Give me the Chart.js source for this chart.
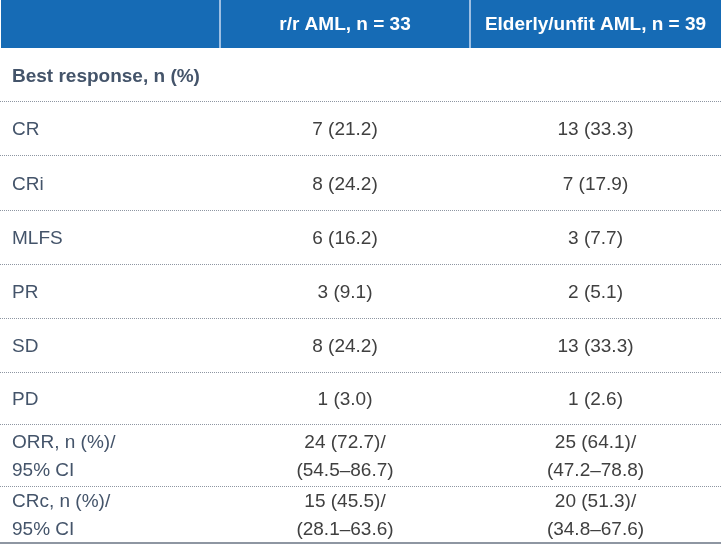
<!DOCTYPE html>
<html>
<head>
<meta charset="utf-8">
<script src="https://cdn.jsdelivr.net/npm/chart.js@4/dist/chart.umd.min.js"></script>
<style>
html,body{margin:0;padding:0;background:#fff;}
canvas{display:block;}
</style>
</head>
<body>
<canvas id="c" width="721" height="545"></canvas>
<script>
// ---- data ----
const columnHeaders = ['', 'r/r AML, n = 33', 'Elderly/unfit AML, n = 39'];
const sectionTitle = 'Best response, n (%)';
const rowLabels = [['CR'], ['CRi'], ['MLFS'], ['PR'], ['SD'], ['PD'], ['ORR, n (%)/', '95% CI'], ['CRc, n (%)/', '95% CI']];
const rrAML = [['7 (21.2)'], ['8 (24.2)'], ['6 (16.2)'], ['3 (9.1)'], ['8 (24.2)'], ['1 (3.0)'], ['24 (72.7)/', '(54.5–86.7)'], ['15 (45.5)/', '(28.1–63.6)']];
const elderlyAML = [['13 (33.3)'], ['7 (17.9)'], ['3 (7.7)'], ['2 (5.1)'], ['13 (33.3)'], ['1 (2.6)'], ['25 (64.1)/', '(47.2–78.8)'], ['20 (51.3)/', '(34.8–67.6)']];

// ---- layout (table grid in scale units) ----
const colEdges = [1, 220, 470, 721];
const rowEdges = [0, 48, 101, 155, 210, 264, 318, 372, 424, 486, 542];

const tablePlugin = {
  id: 'tablePlugin',
  afterDraw(chart) {
    const ctx = chart.ctx;
    const xs = chart.scales.x, ys = chart.scales.y;
    const X = v => xs.getPixelForValue(v);
    const Y = v => ys.getPixelForValue(v);
    const FONT = '"Liberation Sans", Arial, sans-serif';
    ctx.save();
    // header
    ctx.fillStyle = '#166bb5';
    ctx.fillRect(X(colEdges[0]), Y(rowEdges[0]), X(colEdges[3]) - X(colEdges[0]), Y(rowEdges[1]) - Y(rowEdges[0]));
    ctx.fillStyle = '#9dbfe3';
    [colEdges[1], colEdges[2]].forEach(e => ctx.fillRect(X(e) - 1, Y(rowEdges[0]), 2, Y(rowEdges[1]) - Y(rowEdges[0])));
    ctx.fillStyle = '#ffffff';
    ctx.font = 'bold 19px ' + FONT;
    ctx.textAlign = 'center';
    ctx.textBaseline = 'middle';
    for (let c = 1; c < 3; c++) {
      ctx.fillText(columnHeaders[c], (X(colEdges[c]) + X(colEdges[c + 1])) / 2, (Y(rowEdges[0]) + Y(rowEdges[1])) / 2 + 1);
    }
    // section title
    ctx.textAlign = 'left';
    ctx.fillStyle = '#44546a';
    ctx.fillText(sectionTitle, X(colEdges[0]) + 11, (Y(rowEdges[1]) + Y(rowEdges[2])) / 2 + 2);
    // dotted separators
    ctx.strokeStyle = '#8e96a2';
    ctx.lineWidth = 1;
    ctx.setLineDash([1, 1]);
    for (let r = 2; r < rowEdges.length - 1; r++) {
      const y = Math.round(Y(rowEdges[r])) + 0.5;
      ctx.beginPath();
      ctx.moveTo(X(0), y);
      ctx.lineTo(X(721), y);
      ctx.stroke();
    }
    ctx.setLineDash([]);
    // bottom rule
    ctx.strokeStyle = '#8e96a2';
    ctx.lineWidth = 2;
    ctx.beginPath();
    ctx.moveTo(X(0), Y(rowEdges[rowEdges.length - 1]) + 1);
    ctx.lineTo(X(721), Y(rowEdges[rowEdges.length - 1]) + 1);
    ctx.stroke();
    // body
    ctx.font = '19px ' + FONT;
    const cols = [rowLabels, rrAML, elderlyAML];
    for (let i = 0; i < rowLabels.length; i++) {
      const top = Y(rowEdges[i + 2]), bot = Y(rowEdges[i + 3]);
      const mid = (top + bot) / 2 + 2;
      cols.forEach((col, c) => {
        const lines = col[i];
        const n = lines.length;
        lines.forEach((t, k) => {
          const y = mid + (k - (n - 1) / 2) * 28;
          if (c === 0) {
            ctx.textAlign = 'left';
            ctx.fillStyle = '#44546a';
            ctx.fillText(t, X(colEdges[0]) + 11, y);
          } else {
            ctx.textAlign = 'center';
            ctx.fillStyle = '#404040';
            ctx.fillText(t, (X(colEdges[c]) + X(colEdges[c + 1])) / 2, y);
          }
        });
      });
    }
    ctx.restore();
  }
};

new Chart(document.getElementById('c'), {
  type: 'scatter',
  data: { datasets: [{ data: [], pointRadius: 0 }] },
  options: {
    responsive: false,
    animation: false,
    layout: { padding: 0 },
    plugins: { legend: { display: false }, tooltip: { enabled: false } },
    scales: {
      x: { type: 'linear', min: 0, max: 721, display: false },
      y: { type: 'linear', min: 0, max: 545, reverse: true, display: false }
    }
  },
  plugins: [tablePlugin]
});
</script>
</body>
</html>
